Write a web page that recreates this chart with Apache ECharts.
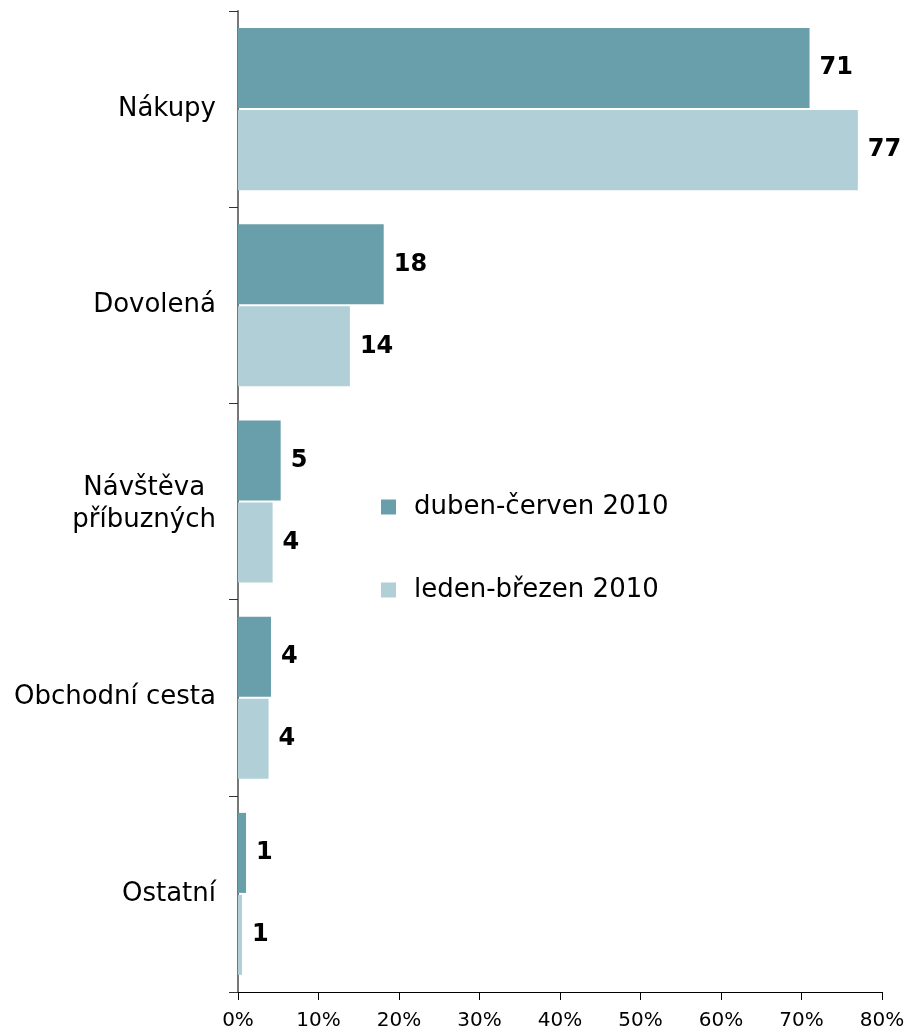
<!DOCTYPE html>
<html>
<head>
<meta charset="utf-8">
<script src="https://cdn.jsdelivr.net/npm/echarts@6/dist/echarts.min.js"></script>
<style>
  html, body { margin: 0; padding: 0; background: #fff; }
  #chart { width: 910px; height: 1035px; }
</style>
</head>
<body>
<div id="chart"></div>
<script>
const categories = ['Nákupy', 'Dovolená', 'Návštěva\npříbuzných', 'Obchodní cesta', 'Ostatní'];
const seriesNames = ['duben-červen 2010', 'leden-březen 2010'];
// bar lengths (percent)
const aprJun = [71, 18.1, 5.3, 4.1, 1.0];
const janMar = [77, 13.9, 4.3, 3.8, 0.5];
// printed labels
const aprJunLabels = [71, 18, 5, 4, 1];
const janMarLabels = [77, 14, 4, 4, 1];
const xTicks = [0, 10, 20, 30, 40, 50, 60, 70, 80];

const FONT = '"DejaVu Sans", Verdana, sans-serif';
const COLORS = { dark: '#689FAB', light: '#B1CFD6' };

const chart = echarts.init(document.getElementById('chart'));

function makeSeries(name, values, labels, color) {
  return {
    name: name,
    type: 'bar',
    data: values,
    barGap: '2.5%',
    barCategoryGap: '17.4%',
    itemStyle: { color: color },
    label: {
      show: true,
      position: 'right',
      distance: 10,
      formatter: p => String(labels[p.dataIndex]),
      fontFamily: FONT,
      fontWeight: 'bold',
      fontSize: 24,
      color: '#000'
    }
  };
}

// multi-line category names: lines centred on each other, block right-aligned
function catLabel(v) {
  const lines = v.split('\n');
  if (lines.length === 1) return v;
  return lines.map(s => '{c|' + s + '}').join('\n');
}

chart.setOption({
  animation: false,
  grid: { left: 238, right: 28, top: 11, bottom: 43 },
  legend: {
    orient: 'vertical',
    left: 381,
    top: 494,
    padding: 0,
    itemGap: 57,
    itemWidth: 15,
    itemHeight: 15,
    icon: 'rect',
    data: seriesNames,
    textStyle: { fontFamily: FONT, fontSize: 26, color: '#000', padding: [0, 0, 0, 13] }
  },
  xAxis: {
    type: 'value',
    min: xTicks[0],
    max: xTicks[xTicks.length - 1],
    interval: 10,
    splitLine: { show: false },
    axisLine: { show: true, lineStyle: { color: '#000', width: 1 } },
    axisTick: { show: true, length: 8, lineStyle: { color: '#000' } },
    axisLabel: { formatter: '{value}%', fontFamily: FONT, fontSize: 20, color: '#000', margin: 19 }
  },
  yAxis: {
    type: 'category',
    data: categories,
    inverse: true,
    axisLine: { show: true, lineStyle: { color: '#777', width: 2 } },
    axisTick: { show: true, length: 9, lineStyle: { color: '#333' } },
    axisLabel: {
      margin: 22,
      fontFamily: FONT,
      fontSize: 26,
      color: '#000',
      formatter: catLabel,
      rich: {
        c: { align: 'center', fontFamily: FONT, fontSize: 26, color: '#000', lineHeight: 32, padding: [6, 0, 0, 0] }
      }
    }
  },
  series: [
    makeSeries(seriesNames[0], aprJun, aprJunLabels, COLORS.dark),
    makeSeries(seriesNames[1], janMar, janMarLabels, COLORS.light)
  ]
});
</script>
</body>
</html>
